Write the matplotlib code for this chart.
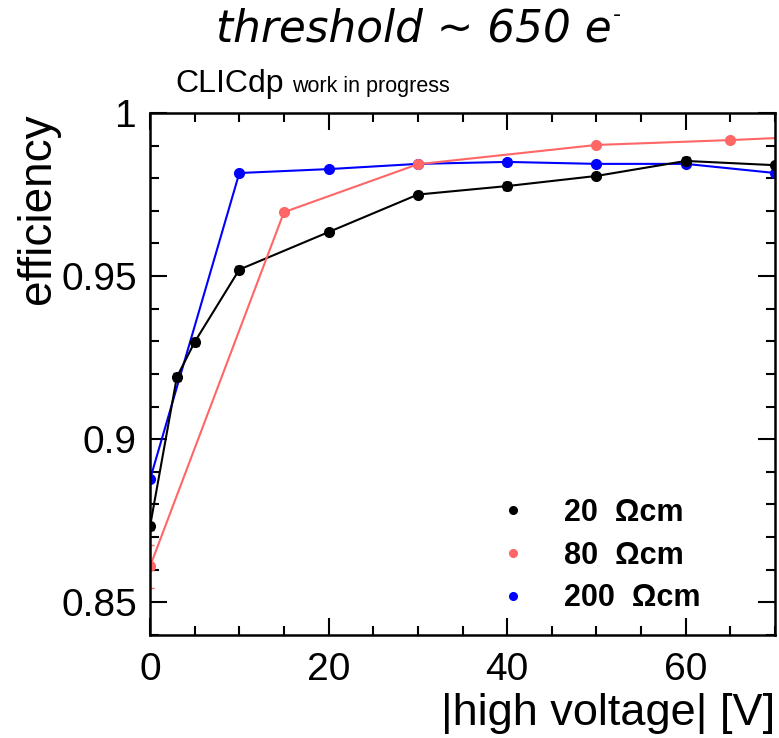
import matplotlib
matplotlib.use("Agg")
import matplotlib.pyplot as plt
from matplotlib.lines import Line2D
from matplotlib.ticker import MultipleLocator, FuncFormatter

plt.rcParams['font.family'] = ['Liberation Sans', 'DejaVu Sans']

hv_20 = [0, 3, 5, 10, 20, 30, 40, 50, 60, 70]
eff_20 = [0.8733, 0.9190, 0.9298, 0.9520, 0.9635, 0.9750, 0.9776, 0.9807, 0.9853, 0.9840]
err_20 = [0.0010, 0.0013, 0.0013, 0.0011, 0.0007, 0.0007, 0.0011, 0.0007, 0.0013, 0.0007]

hv_80 = [0, 15, 30, 50, 65, 80]
eff_80 = [0.8610, 0.9696, 0.9843, 0.9902, 0.9917, 0.9935]
err_80 = [0.0065, 0.0005, 0.0004, 0.0004, 0.0004, 0.0004]

hv_200 = [0, 10, 20, 30, 40, 50, 60, 70]
eff_200 = [0.8877, 0.9816, 0.9828, 0.9844, 0.9850, 0.9844, 0.9844, 0.9816]

labels = ['20  \u03a9cm', '80  \u03a9cm', '200  \u03a9cm']
farben = ['black', '#ff6666', '#0000ff']

fig = plt.figure(figsize=(7.79, 7.38), dpi=100)
ax = fig.add_axes([0.1926, 0.1396, 0.8023, 0.7073])

ax.errorbar(hv_20, eff_20, yerr=err_20, color=farben[0], marker='o', markersize=7,
            linewidth=1.5, capsize=3, elinewidth=1.5)
ax.errorbar(hv_80, eff_80, yerr=err_80, color=farben[1], marker='o', markersize=7,
            linewidth=1.5, capsize=3, elinewidth=1.5)
ax.plot(hv_200, eff_200, color=farben[2], marker='o', markersize=7, linewidth=1.5)

ax.set_xlim(0, 70)
ax.set_ylim(0.84, 1.0)

# ROOT stil: ticks nach innen auf allen seiten
ax.xaxis.set_major_locator(MultipleLocator(20))
ax.xaxis.set_minor_locator(MultipleLocator(5))
ax.yaxis.set_major_locator(MultipleLocator(0.05))
ax.yaxis.set_minor_locator(MultipleLocator(0.01))
ax.yaxis.set_major_formatter(FuncFormatter(lambda v, p: '%g' % round(v, 4)))
ax.tick_params(which='both', direction='in', top=True, right=True, width=1.5, labelsize=28)
ax.tick_params(which='major', length=12)
ax.tick_params(which='minor', length=6.5)
ax.tick_params(axis='x', pad=12)
ax.tick_params(axis='y', pad=9.5)
for s in ax.spines.values():
    s.set_linewidth(1.8)

ax.set_ylabel('efficiency', fontsize=33, loc='top')
ax.yaxis.set_label_coords(-0.144, 1.0)
ax.set_xlabel('|high voltage| [V]', fontsize=32.5, loc='right')
ax.xaxis.set_label_coords(1.0, -0.111)

handles = [Line2D([], [], marker='o', linestyle='none', color=c, markersize=5.5) for c in farben]
ax.legend(handles, labels, loc='upper left', bbox_to_anchor=(0.557, 0.263), frameon=False,
          prop={'weight': 'bold', 'size': 22}, handlelength=1.0, handletextpad=1.15,
          labelspacing=0.42, borderpad=0, borderaxespad=0)

# titel oben
titel = fig.text(414 / 779, 1 - 42 / 738, 'threshold ~ 650 e', ha='center', va='baseline',
                 fontsize=31.5, style='italic', family='DejaVu Sans')
ax.annotate('-', xy=(1.0, 1.0), xycoords=titel, xytext=(1, 2), textcoords='offset points',
            ha='left', va='top', fontsize=16, family='DejaVu Sans', annotation_clip=False)

fig.text(175 / 779, 1 - 92 / 738, 'CLICdp', fontsize=23, ha='left', va='baseline')
fig.text(292 / 779, 1 - 92 / 738, 'work in progress', fontsize=15.5, ha='left', va='baseline')

plt.savefig('out.png', dpi=100)
